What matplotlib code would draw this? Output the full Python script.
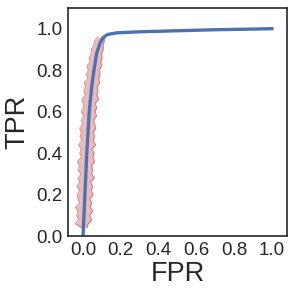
import matplotlib
matplotlib.use("Agg")
import matplotlib.pyplot as plt

# mean ROC curve
mean_fpr = [0.0, 0.005, 0.01, 0.02, 0.033, 0.046, 0.058, 0.072, 0.09, 0.106,
            0.13, 0.18, 0.3, 0.5, 0.7, 0.9, 1.0]
mean_tpr = [0.0, 0.1, 0.2, 0.4, 0.6, 0.72, 0.8, 0.88, 0.93, 0.957,
            0.972, 0.98, 0.985, 0.99, 0.995, 0.998, 1.0]

# spread of the individual curves (red band)
band_tpr = [0.04, 0.06, 0.08, 0.10, 0.12, 0.14, 0.16, 0.18, 0.20, 0.22,
            0.24, 0.26, 0.28, 0.30, 0.32, 0.34, 0.36, 0.38, 0.40, 0.42,
            0.44, 0.46, 0.48, 0.50, 0.52, 0.54, 0.56, 0.58, 0.60, 0.62,
            0.64, 0.66, 0.68, 0.70, 0.72, 0.74, 0.76, 0.78, 0.80, 0.82,
            0.84, 0.86, 0.88, 0.90, 0.92, 0.94, 0.96]
band_lo = [-0.010, -0.041, -0.023, -0.033, -0.026, -0.040, -0.017, -0.027, -0.031, -0.018,
           -0.033, -0.018, -0.025, -0.011, -0.027, -0.017, -0.030, -0.009, -0.017, -0.009,
           -0.024, -0.004, -0.016, -0.008, -0.018, -0.002, -0.009, 0.006, -0.009, 0.004,
           0.001, -0.006, 0.013, 0.004, 0.014, 0.006, 0.026, 0.018, 0.028, 0.020,
           0.037, 0.033, 0.043, 0.044, 0.058, 0.060, 0.078]
band_hi = [0.020, 0.028, 0.046, 0.034, 0.052, 0.038, 0.046, 0.036, 0.054, 0.043,
           0.052, 0.039, 0.061, 0.045, 0.052, 0.045, 0.061, 0.052, 0.059, 0.046,
           0.067, 0.054, 0.061, 0.054, 0.068, 0.061, 0.056, 0.072, 0.063, 0.073,
           0.063, 0.083, 0.073, 0.079, 0.074, 0.089, 0.083, 0.090, 0.085, 0.099,
           0.094, 0.101, 0.098, 0.107, 0.107, 0.112, 0.115]

xticks = [0.0, 0.2, 0.4, 0.6, 0.8, 1.0]
yticks = [0.0, 0.2, 0.4, 0.6, 0.8, 1.0]

plt.rcParams['font.family'] = ['Liberation Sans', 'DejaVu Sans']

fig = plt.figure(figsize=(2.94, 2.94), dpi=100)
ax = fig.add_axes([0.231, 0.197, 0.745, 0.776])

# ragged band: light fill with darker jagged edges
ax.fill_betweenx(band_tpr, band_lo, band_hi, color='#c44e52', alpha=0.38, lw=0)
ax.plot(band_lo, band_tpr, color='#b5494c', alpha=0.6, lw=0.7)
ax.plot(band_hi, band_tpr, color='#b5494c', alpha=0.6, lw=0.7)
ax.plot(mean_fpr, mean_tpr, color='#4c72b0', lw=2.4)

ax.set_xlim(-0.08, 1.08)
ax.set_ylim(0.0, 1.1)
ax.set_xticks(xticks)
ax.set_yticks(yticks)
ax.tick_params(labelsize=13.5, length=0, pad=4)
ax.set_xlabel('FPR', fontsize=19.5, color='#262626', labelpad=2)
ax.set_ylabel('TPR', fontsize=19.5, color='#262626', labelpad=4)
for lab in ax.get_xticklabels() + ax.get_yticklabels():
    lab.set_color('#262626')
for sp in ax.spines.values():
    sp.set_color('#262626')
    sp.set_linewidth(1.2)

fig.savefig('out.png', dpi=100)
